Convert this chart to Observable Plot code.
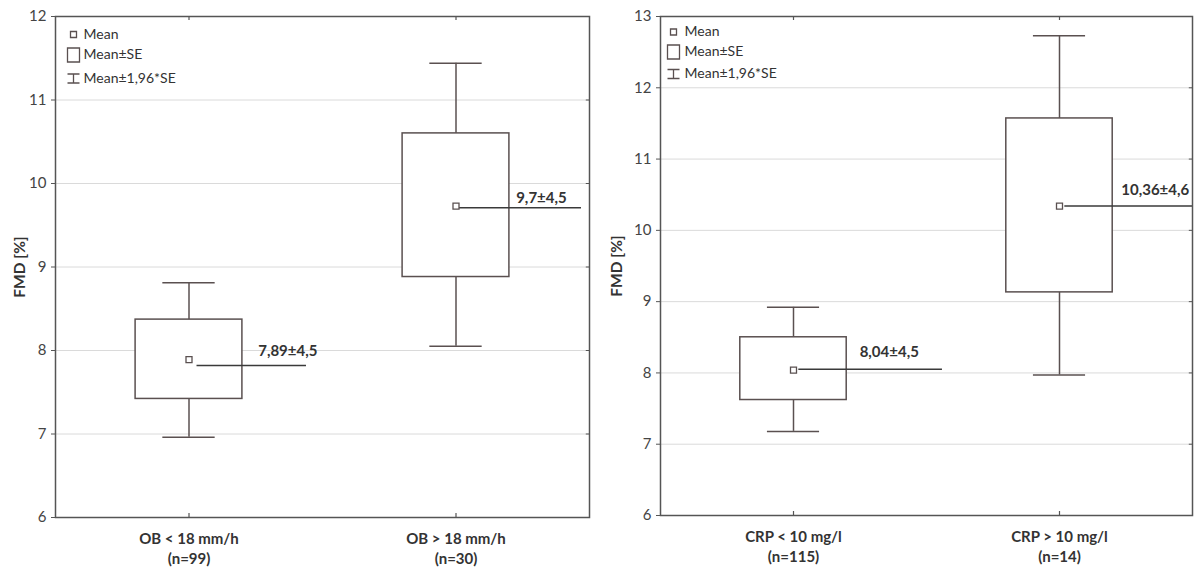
<!DOCTYPE html>
<html><head><meta charset="utf-8">
<script src="https://cdn.jsdelivr.net/npm/d3@7"></script>
<script src="https://cdn.jsdelivr.net/npm/@observablehq/plot@0.6"></script>
<style>
body{margin:0;background:#fff;}
#wrap{display:flex;width:1196px;height:570px;background:#fff;}
#wrap svg{display:block;}
</style></head><body><div id="wrap"></div>
<script>
// ---- data: left panel (OB) ----
const leftCategories = ["OB < 18 mm/h", "OB > 18 mm/h"];
const leftN = [99, 30];
const leftMean = [7.89, 9.73];
const leftSELow = [7.42, 8.88];
const leftSEHigh = [8.37, 10.60];
const leftCILow = [6.96, 8.05];
const leftCIHigh = [8.81, 11.44];
const leftLabels = ["7,89±4,5", "9,7±4,5"];
const leftTicks = [6, 7, 8, 9, 10, 11, 12];

// ---- data: right panel (CRP) ----
const rightCategories = ["CRP < 10 mg/l", "CRP > 10 mg/l"];
const rightN = [115, 14];
const rightMean = [8.04, 10.34];
const rightSELow = [7.62, 9.13];
const rightSEHigh = [8.50, 11.57];
const rightCILow = [7.18, 7.97];
const rightCIHigh = [8.92, 12.73];
const rightLabels = ["8,04±4,5", "10,36±4,6"];
const rightTicks = [6, 7, 8, 9, 10, 11, 12, 13];

const legendItems = ["Mean", "Mean±SE", "Mean±1,96*SE"];
const yLabel = "FMD [%]";

// ---- annotation layout (leader line + label placement) ----
const leftAnnot = {lineY: [7.82, 9.71], lineX: [[0.03, 0.44], [0.01, 0.47]], textDx: [0.37, 0.32], textY: [7.99, 9.82]};
const rightAnnot = {lineY: [8.05, 10.34], lineX: [[0.02, 0.56], [0.02, 0.5]], textDx: [0.36, 0.36], textY: [8.29, 10.56]};

const FONT = "Lato, 'Open Sans', sans-serif";
const INK = "#5a5050";
const FRAME = "#555";

const smallSquare = {draw(ctx) { const s = 3; ctx.moveTo(-s, -s); ctx.lineTo(s, -s); ctx.lineTo(s, s); ctx.lineTo(-s, s); ctx.closePath(); }};
const bigSquare = {draw(ctx) { const w = 6, h = 7; ctx.moveTo(-w, -h); ctx.lineTo(w, -h); ctx.lineTo(w, h); ctx.lineTo(-w, h); ctx.closePath(); }};
const ibeam = {draw(ctx) { const w = 6, h = 4.5; ctx.moveTo(-w, -h); ctx.lineTo(w, -h); ctx.moveTo(0, -h); ctx.lineTo(0, h); ctx.moveTo(-w, h); ctx.lineTo(w, h); }};

function panel(cfg) {
  const data = cfg.cats.map((c, i) => ({
    pos: i + 0.5, cat: c, n: cfg.n[i], mean: cfg.mean[i],
    seLo: cfg.seLo[i], seHi: cfg.seHi[i], ciLo: cfg.ciLo[i], ciHi: cfg.ciHi[i],
    label: cfg.labels[i], lineY: cfg.annot.lineY[i],
    lx1: i + 0.5 + cfg.annot.lineX[i][0], lx2: i + 0.5 + cfg.annot.lineX[i][1],
    tx: i + 0.5 + cfg.annot.textDx[i], ty: cfg.annot.textY[i]
  }));
  const t = cfg.ticks, y0 = t[0], y1 = t[t.length - 1];
  const L = cfg.legend;
  const tickLen = (y1 - y0) * 0.008;
  return Plot.plot({
    width: 598, height: 570,
    marginLeft: cfg.ml, marginRight: cfg.mr, marginTop: 16, marginBottom: cfg.mb,
    x: {domain: [0, 2]},
    y: {domain: [y0, y1]},
    style: {fontFamily: FONT, background: "#fff", color: "#333"},
    marks: [
      Plot.ruleY(t.slice(1, -1), {stroke: "#dadada", strokeWidth: 1}),
      // whiskers (Mean±1.96*SE)
      Plot.ruleX(data, {x: "pos", y1: "ciLo", y2: "ciHi", stroke: INK, strokeWidth: 1.5}),
      Plot.ruleY(data, {y: "ciHi", x1: d => d.pos - 0.098, x2: d => d.pos + 0.098, stroke: INK, strokeWidth: 1.5}),
      Plot.ruleY(data, {y: "ciLo", x1: d => d.pos - 0.098, x2: d => d.pos + 0.098, stroke: INK, strokeWidth: 1.5}),
      // boxes (Mean±SE)
      Plot.rect(data, {x1: d => d.pos - 0.2, x2: d => d.pos + 0.2, y1: "seLo", y2: "seHi", fill: "white", stroke: INK, strokeWidth: 1.5}),
      // leader lines
      Plot.ruleY(data, {y: "lineY", x1: "lx1", x2: "lx2", stroke: "#3a3a3a", strokeWidth: 1.5}),
      // means
      Plot.dot(data, {x: "pos", y: "mean", symbol: smallSquare, r: 3, fill: "white", stroke: INK, strokeWidth: 1.3}),
      Plot.text(data, {x: "tx", y: "ty", text: "label", fontWeight: "bold", fontSize: 15, fill: "#333"}),
      // frame and small inner ticks
      Plot.frame({stroke: FRAME, strokeWidth: 1.5}),
      Plot.ruleX(data, {x: "pos", y1: y0, y2: y0 + tickLen, stroke: FRAME, strokeWidth: 1.2}),
      Plot.ruleX(data, {x: "pos", y1: y1, y2: y1 - tickLen, stroke: FRAME, strokeWidth: 1.2}),
      Plot.ruleY(t, {y: d => d, x1: 2 - 0.012, x2: 2, stroke: FRAME, strokeWidth: 1}),
      // axes
      Plot.axisY(t, {tickSize: 4, tickPadding: 5, fontSize: 15, stroke: FRAME, fill: "#444", label: null, tickFormat: d => String(d)}),
      Plot.axisX(data.map(d => d.pos), {
        tickSize: 0, tickPadding: 12, fontSize: 15, fontWeight: "bold", fill: "#333", lineHeight: 1.35, label: null,
        tickFormat: d => { const i = Math.floor(d); return `${cfg.cats[i]}\n(n=${cfg.n[i]})`; }
      }),
      Plot.text([yLabel], {frameAnchor: "left", textAnchor: "middle", dx: cfg.ylabDx, rotate: -90, fontWeight: "bold", fontSize: 15.5, fill: "#333"}),
      // legend
      Plot.dot([0], {frameAnchor: "top-left", dx: L.sx, dy: L.y[0], symbol: smallSquare, r: 3, fill: "none", stroke: INK, strokeWidth: 1.3}),
      Plot.dot([0], {frameAnchor: "top-left", dx: L.sx, dy: L.y[1], symbol: bigSquare, r: 6, fill: "none", stroke: INK, strokeWidth: 1.3}),
      Plot.dot([0], {frameAnchor: "top-left", dx: L.sx, dy: L.y[2], symbol: ibeam, r: 6, fill: "none", stroke: INK, strokeWidth: 1.3}),
      ...legendItems.map((s, i) => Plot.text([s], {frameAnchor: "top-left", textAnchor: "start", lineAnchor: "middle", dx: L.tx, dy: L.y[i], fontSize: 14, fill: "#333"}))
    ]
  });
}

const wrap = document.getElementById("wrap");
wrap.append(panel({
  cats: leftCategories, n: leftN, mean: leftMean, seLo: leftSELow, seHi: leftSEHigh,
  ciLo: leftCILow, ciHi: leftCIHigh, labels: leftLabels, ticks: leftTicks, annot: leftAnnot,
  ml: 55, mr: 9, mb: 53, ylabDx: -35,
  legend: {sx: 18, tx: 28, y: [18, 38.5, 62]}
}));
wrap.append(panel({
  cats: rightCategories, n: rightN, mean: rightMean, seLo: rightSELow, seHi: rightSEHigh,
  ciLo: rightCILow, ciHi: rightCIHigh, labels: rightLabels, ticks: rightTicks, annot: rightAnnot,
  ml: 62, mr: 4, mb: 55, ylabDx: -43,
  legend: {sx: 13, tx: 24, y: [15.5, 35.5, 57.5]}
}));
</script></body></html>
